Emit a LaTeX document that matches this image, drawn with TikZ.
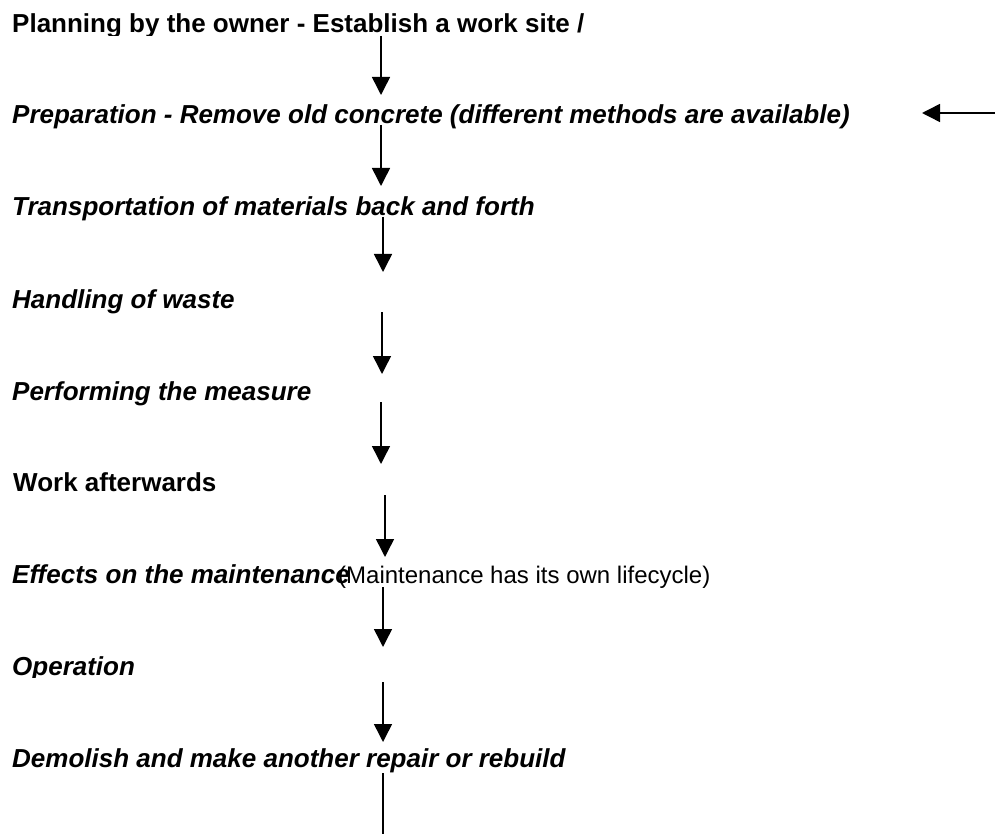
\documentclass[tikz,border=0pt]{standalone}
\usepackage{fontspec}
\setmainfont{Liberation Sans}
\usetikzlibrary{arrows.meta}
\begin{document}
\begin{tikzpicture}[x=1pt,y=-1pt,
  lbl/.style={anchor=base west, inner sep=0pt, font=\fontsize{26}{30}\selectfont\bfseries\itshape},
  lblup/.style={anchor=base west, inner sep=0pt, font=\fontsize{26}{30}\selectfont\bfseries},
  lblreg/.style={anchor=base west, inner sep=0pt, font=\fontsize{24}{30}\selectfont},
  flow/.style={line width=1.5pt, -{Triangle[length=18pt,width=18pt]}},
  flowplain/.style={line width=1.5pt}]
\useasboundingbox (0,0) rectangle (995,834);
% texts
\begin{scope}
  \clip (0,0) rectangle (995,35.5);
  \node[lblup] (t1) at (12,33) {Planning by the owner - Establish a work site /};
\end{scope}
\node[lbl] (t2) at (12,124) {Preparation - Remove old concrete (different methods are available)};
\node[lbl] (t3) at (12,216) {Transportation of materials back and forth};
\node[lbl] (t4) at (12,308) {Handling of waste};
\node[lbl] (t5) at (12,400) {Performing the measure};
\node[lblup] (t6) at (13,491) {Work afterwards};
\node[lbl] (t7) at (12,583) {Effects on the maintenance};
\node[lblreg] (t7b) at (338,583) {(Maintenance has its own lifecycle)};
\begin{scope}
  \clip (0,640) rectangle (995,677.5);
  \node[lbl] (t8) at (12,675) {Operation};
\end{scope}
\node[lbl] (t9) at (12,767) {Demolish and make another repair or rebuild};
% arrow end points
\coordinate (a1s) at (381,36);  \coordinate (a1e) at (381,95);
\coordinate (a2s) at (381,125); \coordinate (a2e) at (381,186);
\coordinate (a3s) at (383,217); \coordinate (a3e) at (383,272);
\coordinate (a4s) at (382,312); \coordinate (a4e) at (382,374);
\coordinate (a5s) at (381,402); \coordinate (a5e) at (381,464);
\coordinate (a6s) at (385,495); \coordinate (a6e) at (385,557);
\coordinate (a7s) at (383,587); \coordinate (a7e) at (383,647);
\coordinate (a8s) at (383,682); \coordinate (a8e) at (383,742);
\coordinate (a9s) at (383,773); \coordinate (a9e) at (383,834);
\coordinate (rs) at (995,113);  \coordinate (re) at (922,113);
\draw[flow] (a1s) -- (a1e);
\draw[flow] (a2s) -- (a2e);
\draw[flow] (a3s) -- (a3e);
\draw[flow] (a4s) -- (a4e);
\draw[flow] (a5s) -- (a5e);
\draw[flow] (a6s) -- (a6e);
\draw[flow] (a7s) -- (a7e);
\draw[flow] (a8s) -- (a8e);
\draw[flowplain] (a9s) -- (a9e);
\draw[flow] (rs) -- (re);
\end{tikzpicture}
\end{document}
